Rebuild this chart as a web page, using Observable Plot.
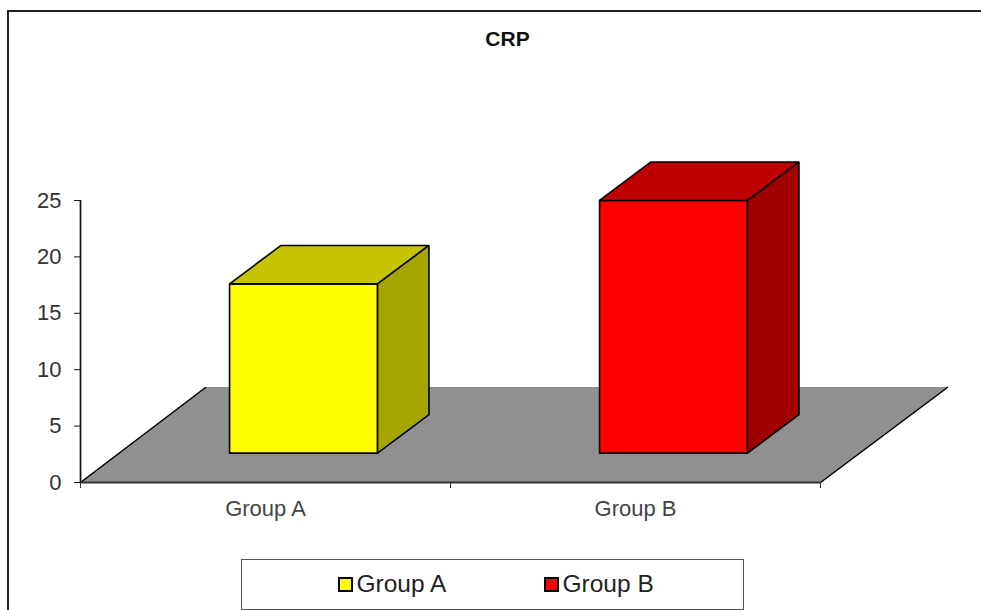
<!DOCTYPE html>
<html>
<head>
<meta charset="utf-8">
<script src="https://cdn.jsdelivr.net/npm/d3@7"></script>
<script src="https://cdn.jsdelivr.net/npm/@observablehq/plot@0.6"></script>
<style>
  html, body { margin: 0; padding: 0; background: #fff; overflow: hidden; }
  #wrap { position: relative; width: 981px; height: 610px; font-family: "Liberation Sans", Arial, sans-serif; }
  #frame { position: absolute; left: 7px; top: 10px; right: 0; bottom: -4px; border-left: 2px solid #222; border-top: 2px solid #222; }
  #title { position: absolute; left: 0; width: 1015px; top: 27px; text-align: center; font-weight: bold; font-size: 21px; color: #111; }
  #legend { position: absolute; left: 241px; top: 559px; width: 501px; height: 49px; border: 1.5px solid #555; box-sizing: content-box; background: #fff; }
  .item { position: absolute; top: 10px; font-size: 24.5px; line-height: 28px; color: #222; display: flex; align-items: center; white-space: nowrap; }
  .sw { display: inline-block; width: 11px; height: 11px; border: 2px solid #000; margin-right: 4px; }
  svg { position: absolute; left: 0; top: 0; background: transparent !important; }
</style>
</head>
<body>
<div id="wrap">
  <div id="frame"></div>
  <div id="title"></div>
  <div id="chart"></div>
  <div id="legend"></div>
</div>
<script>
const chartTitle = "CRP";
const categories = ["Group A", "Group B"];
const values = [15, 22.4];
const frontColors = ["#ffff00", "#ff0000"];
const topColors = ["#c4c400", "#c00000"];
const sideColors = ["#a5a500", "#a00000"];
const yTicks = [0, 5, 10, 15, 20, 25];
const xTicks = [0, 1, 2];

// 3D oblique projection, expressed in axis units
const depthX = 0.343, depthY = 8.42;
const barWidth = 0.4, barDepthFront = 0.3, barDepthBack = 0.705, barLift = 0.08;
const px = (x, d) => x + d * depthX;
const py = (y, d) => y + d * depthY;

const floor = [[0, 0], [2, 0], [2, 1], [-0.005, 1], [0, 0]].map(([x, d]) => ({ x: px(x, d), y: py(0, d) }));

function barFaces(i) {
  const x0 = i + 0.5 - barWidth / 2, x1 = i + 0.5 + barWidth / 2, v = values[i];
  const f = barDepthFront, b = barDepthBack;
  const pt = (x, y, d, face, color) => ({ x: px(x, d), y: py(y, d) + barLift, face: `${i}-${face}`, color });
  const poly = (face, color, pts) => pts.map(([x, y, d]) => pt(x, y, d, face, color));
  return [
    ...poly("front", frontColors[i], [[x0, 0, f], [x1, 0, f], [x1, v, f], [x0, v, f], [x0, 0, f]]),
    ...poly("top", topColors[i], [[x0, v, f], [x1, v, f], [x1, v, b], [x0, v, b], [x0, v, f]]),
    ...poly("side", sideColors[i], [[x1, 0, f], [x1, 0, b], [x1, v, b], [x1, v, f], [x1, 0, f]])
  ];
}

const faces = categories.flatMap((_, i) => barFaces(i));
const font = "Liberation Sans, Arial, sans-serif";

const plot = Plot.plot({
  width: 981,
  height: 610,
  marginLeft: 80,
  marginRight: 161,
  marginTop: 200,
  marginBottom: 128,
  style: { fontFamily: font, background: "transparent", overflow: "visible" },
  x: { domain: [0, 2], range: [80, 820], axis: null },
  y: { domain: [0, 25], range: [482, 200], axis: null },
  marks: [
    Plot.line(floor, { x: "x", y: "y", fill: "#909090", stroke: "#8a8a8a", strokeWidth: 1 }),
    Plot.line(faces, { x: "x", y: "y", z: "face", fill: "color", stroke: "#000", strokeWidth: 1.6, strokeLinejoin: "miter" }),
    Plot.line(floor.slice(1, 3), { x: "x", y: "y", stroke: "#000", strokeWidth: 1.5 }),
    Plot.line(floor.slice(3, 5), { x: "x", y: "y", stroke: "#000", strokeWidth: 1.5 }),
    Plot.ruleY([0], { x1: 0, x2: 2, stroke: "#333", strokeWidth: 1.8 }),
    Plot.ruleX([0], { y1: 0, y2: 25, stroke: "#111", strokeWidth: 1.7 }),
    Plot.axisY({ ticks: yTicks, tickSize: 6, tickPadding: 13, fontSize: 22, label: null, color: "#333", tickFormat: d => String(d), stroke: "#111" }),
    Plot.axisX({ ticks: xTicks, tickSize: 6, tickFormat: () => "", label: null, stroke: "#333" }),
    Plot.text(categories, { x: (d, i) => i + 0.5, y: 0, dy: 26, text: d => d, fontSize: 22, fill: "#444", fontFamily: font })
  ]
});
document.getElementById("chart").appendChild(plot);
document.getElementById("title").textContent = chartTitle;

const legend = document.getElementById("legend");
const legendLeft = [95.5, 301.5];
categories.forEach((c, i) => {
  const item = document.createElement("div");
  item.className = "item";
  item.style.left = legendLeft[i] + "px";
  const sw = document.createElement("span");
  sw.className = "sw";
  sw.style.background = frontColors[i];
  item.appendChild(sw);
  item.appendChild(document.createTextNode(c));
  legend.appendChild(item);
});
</script>
</body>
</html>
